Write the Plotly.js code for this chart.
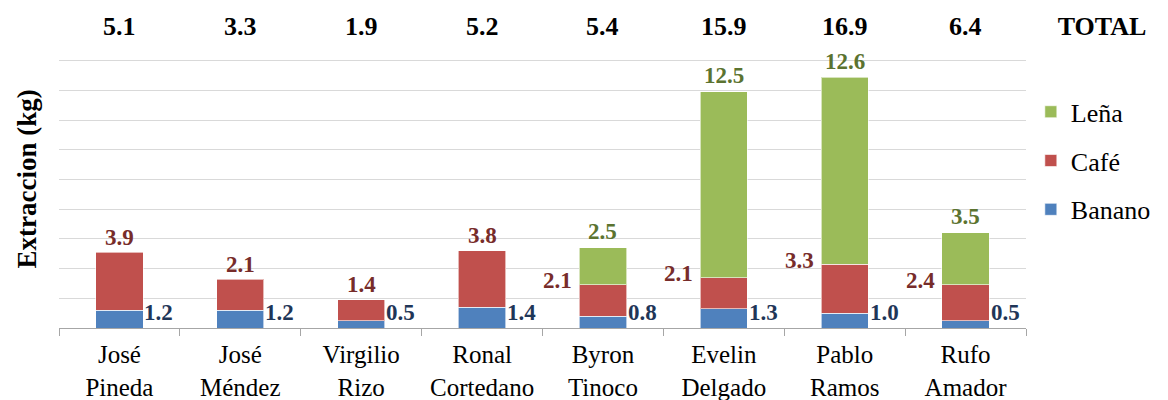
<!DOCTYPE html>
<html>
<head>
<meta charset="utf-8">
<script src="https://cdn.plot.ly/plotly-3.0.1.min.js"></script>
<style>html,body{margin:0;padding:0;background:#fff;}
#wrap{position:relative;width:1168px;height:400px;}
#chart{position:absolute;left:0;top:0;width:1168px;height:400px;}
#total{position:absolute;left:1050px;top:10px;width:104px;text-align:center;font-family:'Liberation Serif';font-weight:bold;font-size:26px;line-height:34px;color:#000;z-index:5;}</style>
</head>
<body>
<div id="wrap">
<div id="chart"></div>
<div id="total">TOTAL</div>
</div>
<script>
const categories = ["José<br>Pineda", "José<br>Méndez", "Virgilio<br>Rizo", "Ronal<br>Cortedano", "Byron<br>Tinoco", "Evelin<br>Delgado", "Pablo<br>Ramos", "Rufo<br>Amador"];
const banano = [1.2, 1.2, 0.5, 1.4, 0.8, 1.3, 1.0, 0.5];
const cafe   = [3.9, 2.1, 1.4, 3.8, 2.1, 2.1, 3.3, 2.4];
const lena   = [0, 0, 0, 0, 2.5, 12.5, 12.6, 3.5];
const totals = [5.1, 3.3, 1.9, 5.2, 5.4, 15.9, 16.9, 6.4];
const yTitle = "Extraccion (kg)";

const FONT = "Liberation Serif";
const colBanano = "#4F81BD", colCafe = "#C0504D", colLena = "#9BBB59";
const txtBanano = "#1F3658", txtCafe = "#772C2A", txtLena = "#5B7330";

const barLine = {color: "rgba(255,255,255,0.6)", width: 1};
const traces = [
  {type: "bar", name: "Banano", x: categories, y: banano, marker: {color: colBanano, line: barLine}, legendgroup: "b", legendrank: 3, hoverinfo: "none"},
  {type: "bar", name: "Café", x: categories, y: cafe, marker: {color: colCafe, line: barLine}, legendgroup: "c", legendrank: 2, hoverinfo: "none"},
  {type: "bar", name: "Leña", x: categories, y: lena.map(v => v > 0 ? v : null), marker: {color: colLena, line: barLine}, legendgroup: "l", legendrank: 1, hoverinfo: "none"}
];

const ann = [];
const lblFont = (c) => ({family: FONT, size: 23, color: c});
categories.forEach((c, i) => {
  ann.push({x: c, xref: "x", y: 1, yref: "paper", yanchor: "middle", yshift: 5, text: "<b>" + totals[i].toFixed(1) + "</b>", showarrow: false, font: {family: FONT, size: 26, color: "#000"}});
  ann.push({x: c, xref: "x", y: 0, yref: "y", xanchor: "left", xshift: 23, yanchor: "middle", yshift: 16, text: "<b>" + banano[i].toFixed(1) + "</b>", showarrow: false, font: lblFont(txtBanano)});
  const top2 = banano[i] + cafe[i];
  if (lena[i] > 0) {
    ann.push({x: c, xref: "x", y: top2, yref: "y", xanchor: "right", xshift: -29, yanchor: "middle", yshift: 4, text: "<b>" + cafe[i].toFixed(1) + "</b>", showarrow: false, font: lblFont(txtCafe)});
    ann.push({x: c, xref: "x", y: top2 + lena[i], yref: "y", xanchor: "center", yanchor: "middle", yshift: 16, text: "<b>" + lena[i].toFixed(1) + "</b>", showarrow: false, font: lblFont(txtLena)});
  } else {
    ann.push({x: c, xref: "x", y: top2, yref: "y", xanchor: "center", yanchor: "middle", yshift: 15, text: "<b>" + cafe[i].toFixed(1) + "</b>", showarrow: false, font: lblFont(txtCafe)});
  }
});
ann.push({x: 0, xref: "paper", xshift: -33, y: 0.5, yref: "paper", xanchor: "center", yanchor: "middle", textangle: -90, text: "<b>" + yTitle + "</b>", showarrow: false, font: {family: FONT, size: 27, color: "#000"}});

const gridVals = [];
for (let v = 2; v <= 18; v += 2) gridVals.push(v);

const layout = {
  width: 1168, height: 400,
  margin: {l: 59, r: 125, t: 31, b: 72, pad: 0},
  barmode: "stack",
  bargap: 0.61,
  paper_bgcolor: "#fff", plot_bgcolor: "#fff",
  font: {family: FONT, size: 25, color: "#000"},
  showlegend: true,
  legend: {x: 1.005, xanchor: "left", y: 0.807, yanchor: "top", traceorder: "grouped", tracegroupgap: 12, font: {family: FONT, size: 26, color: "#000"}, itemwidth: 30, bgcolor: "rgba(0,0,0,0)"},
  xaxis: {type: "category", showline: true, linecolor: "#A6A6A6", linewidth: 1, ticks: "outside", tickson: "boundaries", ticklen: 7, tickcolor: "#A6A6A6", showgrid: false, tickfont: {family: FONT, size: 25, color: "#000"}, ticklabelstandoff: 4, fixedrange: true},
  yaxis: {range: [0, 20], tickvals: gridVals, showticklabels: false, showgrid: true, gridcolor: "#D9D9D9", gridwidth: 1, zeroline: false, showline: false, fixedrange: true},
  annotations: ann
};

Plotly.newPlot("chart", traces, layout, {displayModeBar: false, staticPlot: true});
</script>
</body>
</html>
